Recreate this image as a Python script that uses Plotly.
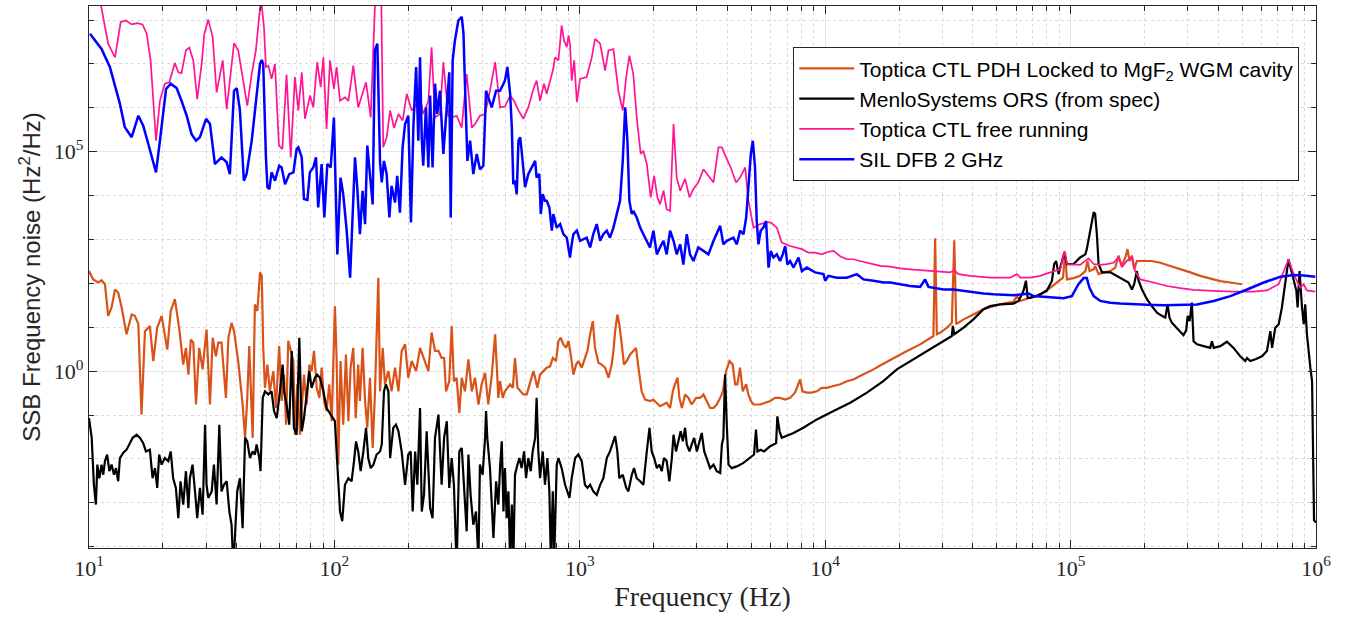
import plotly.graph_objects as go

# Values as (log10 frequency [Hz], log10 SSB frequency noise [Hz^2/Hz])
locked_pdh = [
    (1.000, 2.28), (1.017, 2.09), (1.038, 2.02), (1.051, 2.07), (1.065, 1.98), (1.078, 1.26), (1.092, 1.45),
    (1.106, 1.86), (1.119, 1.79), (1.133, 1.45), (1.153, 0.84), (1.174, 1.29), (1.187, 1.26), (1.201, 1.07),
    (1.214, -0.99), (1.228, 0.91), (1.248, 1.03), (1.262, 0.23), (1.278, 0.99), (1.296, 1.26), (1.319, 0.49),
    (1.333, 1.37), (1.350, 1.64), (1.368, 0.95), (1.384, 0.15), (1.395, 0.53), (1.405, -0.08), (1.415, 0.72),
    (1.425, 0.65), (1.436, -0.76), (1.449, 0.53), (1.463, 0.04), (1.479, 0.95), (1.493, -0.76), (1.504, 0.76),
    (1.517, 0.34), (1.527, 0.65), (1.540, 0.65), (1.558, -0.61), (1.568, 0.76), (1.581, 1.10), (1.591, 0.91),
    (1.608, 0.23), (1.615, -0.11), (1.626, -0.76), (1.636, -1.52), (1.645, -0.61), (1.653, 0.57), (1.667, -1.52),
    (1.676, 1.52), (1.686, 1.37), (1.697, 2.25), (1.704, 2.17), (1.710, 0.53), (1.717, -0.38), (1.727, 0.15),
    (1.737, -0.46), (1.751, 0.00), (1.762, -0.84), (1.775, 0.57), (1.785, -0.68), (1.795, -0.08), (1.803, -1.22),
    (1.812, 0.69), (1.822, 0.46), (1.833, 0.23), (1.839, -1.45), (1.849, -0.30), (1.860, -1.45), (1.871, -0.38),
    (1.876, -0.08), (1.887, -0.76), (1.898, 0.15), (1.907, 0.00), (1.917, 0.46), (1.928, -0.38), (1.939, -0.61),
    (1.948, 0.08), (1.958, -0.68), (1.968, -0.91), (1.979, -0.30), (1.989, -1.14), (1.996, 0.08), (2.002, 1.48),
    (2.009, 0.30), (2.016, -2.13), (2.025, 0.23), (2.036, -1.22), (2.047, 0.38), (2.057, -1.14), (2.066, 0.08),
    (2.077, 0.53), (2.087, -1.07), (2.097, 0.15), (2.104, -0.68), (2.115, 0.53), (2.125, -0.68), (2.134, -1.29),
    (2.145, -0.15), (2.156, -1.75), (2.165, -0.53), (2.179, 2.13), (2.186, -0.46), (2.197, 0.53), (2.206, -0.30),
    (2.220, 0.00), (2.233, -0.46), (2.247, 0.08), (2.261, -0.46), (2.274, 0.46), (2.288, 0.61), (2.301, -0.15),
    (2.315, 0.23), (2.333, 0.00), (2.349, 0.53), (2.365, 0.30), (2.383, 0.00), (2.396, 0.88), (2.410, 0.46),
    (2.424, 0.46), (2.437, 0.30), (2.447, 0.30), (2.455, -0.46), (2.468, -0.23), (2.478, 1.03), (2.487, -0.23),
    (2.498, -0.15), (2.509, -0.95), (2.519, -0.15), (2.532, -0.46), (2.546, 0.27), (2.560, -0.46), (2.573, -0.15),
    (2.587, -0.76), (2.600, -0.30), (2.614, -0.04), (2.627, -0.76), (2.641, -0.11), (2.655, 0.84), (2.668, -0.61),
    (2.675, -0.23), (2.686, -0.61), (2.695, -0.46), (2.705, -0.38), (2.716, -0.30), (2.727, -0.38), (2.736, 0.30),
    (2.746, -0.38), (2.757, -0.46), (2.770, -0.53), (2.784, -0.53), (2.797, -0.30), (2.811, 0.00), (2.818, -0.15),
    (2.827, -0.38), (2.838, -0.08), (2.852, 0.00), (2.865, 0.08), (2.879, 0.11), (2.890, 0.30), (2.903, 0.23),
    (2.913, 0.69), (2.922, 0.76), (2.933, 0.61), (2.944, 0.53), (2.954, 0.69), (2.963, 0.38), (2.974, -0.08),
    (2.985, 0.15), (2.994, 0.23), (3.008, 0.08), (3.021, 0.30), (3.031, 0.46), (3.042, 0.84), (3.053, 1.14),
    (3.062, 0.53), (3.076, 0.19), (3.089, 0.15), (3.103, 0.08), (3.117, -0.15), (3.130, 0.15), (3.137, 0.46),
    (3.144, 0.91), (3.153, 1.29), (3.161, 1.07), (3.171, 0.61), (3.180, 0.15), (3.191, 0.23), (3.205, 0.38),
    (3.218, 0.46), (3.229, 0.53), (3.239, 0.08), (3.252, -0.46), (3.266, -0.65), (3.286, -0.68), (3.300, -0.65),
    (3.314, -0.72), (3.327, -0.80), (3.341, -0.76), (3.354, -0.72), (3.368, -0.84), (3.379, -0.46), (3.388, -0.30),
    (3.398, -0.15), (3.406, -0.61), (3.416, -0.84), (3.429, -0.53), (3.443, -0.61), (3.456, -0.76), (3.474, -0.61),
    (3.490, -0.61), (3.504, -0.53), (3.517, -0.68), (3.531, -0.84), (3.545, -0.84), (3.558, -0.76), (3.572, -0.61),
    (3.583, -0.46), (3.596, 0.00), (3.610, 0.23), (3.623, 0.15), (3.633, -0.30), (3.642, -0.30), (3.653, 0.08),
    (3.664, -0.46), (3.678, -0.30), (3.687, -0.53), (3.697, -0.68), (3.708, -0.76), (3.721, -0.76), (3.735, -0.76),
    (3.755, -0.72), (3.776, -0.68), (3.796, -0.61), (3.816, -0.61), (3.837, -0.65), (3.857, -0.61), (3.877, -0.49),
    (3.898, -0.19), (3.907, -0.46), (3.925, -0.49), (3.945, -0.49), (3.966, -0.46), (3.986, -0.38), (4.007, -0.38),
    (4.034, -0.34), (4.061, -0.30), (4.088, -0.23), (4.115, -0.19), (4.142, -0.11), (4.170, -0.04), (4.197, 0.04),
    (4.224, 0.13), (4.278, 0.30), (4.333, 0.46), (4.387, 0.61), (4.441, 0.80), (4.448, 3.03), (4.455, 0.84),
    (4.469, 0.88), (4.496, 0.99), (4.516, 1.10), (4.526, 2.98), (4.534, 1.07), (4.564, 1.18), (4.604, 1.29),
    (4.645, 1.41), (4.686, 1.48), (4.727, 1.54), (4.767, 1.58), (4.781, 1.71), (4.795, 1.60), (4.835, 1.67),
    (4.876, 1.75), (4.917, 1.90), (4.944, 2.02), (4.969, 2.13), (4.978, 2.70), (4.985, 2.09), (5.012, 2.12),
    (5.039, 2.17), (5.060, 2.28), (5.069, 2.51), (5.077, 2.28), (5.094, 2.32), (5.100, 2.40), (5.114, 2.21),
    (5.134, 2.25), (5.162, 2.28), (5.182, 2.36), (5.195, 2.63), (5.209, 2.40), (5.223, 2.59), (5.232, 2.78),
    (5.240, 2.51), (5.250, 2.63), (5.259, 2.32), (5.270, 2.51), (5.297, 2.51), (5.331, 2.51), (5.365, 2.47),
    (5.406, 2.40), (5.447, 2.32), (5.488, 2.25), (5.528, 2.17), (5.569, 2.11), (5.610, 2.05), (5.651, 2.02),
    (5.698, 1.98),
]

menlo_ors = [
    (1.000, -1.07), (1.011, -1.52), (1.020, -2.59), (1.028, -3.04), (1.034, -2.13), (1.042, -2.44), (1.051, -2.13),
    (1.058, -2.36), (1.065, -2.05), (1.074, -1.90), (1.083, -2.28), (1.092, -2.13), (1.102, -2.36), (1.110, -2.21),
    (1.119, -2.51), (1.126, -1.98), (1.140, -1.86), (1.153, -1.79), (1.164, -1.67), (1.178, -1.52), (1.194, -1.45),
    (1.208, -1.52), (1.221, -1.64), (1.232, -1.83), (1.248, -1.79), (1.259, -2.44), (1.269, -2.21), (1.278, -2.66),
    (1.286, -1.90), (1.296, -2.13), (1.309, -1.98), (1.323, -2.05), (1.333, -1.83), (1.343, -2.44), (1.354, -2.66),
    (1.364, -3.35), (1.373, -2.51), (1.384, -3.04), (1.395, -2.28), (1.405, -3.12), (1.411, -2.44), (1.422, -2.13),
    (1.432, -2.74), (1.441, -3.35), (1.452, -2.66), (1.463, -3.27), (1.473, -1.22), (1.479, -2.59), (1.486, -2.89),
    (1.500, -2.74), (1.509, -2.13), (1.520, -3.04), (1.531, -1.22), (1.540, -2.74), (1.550, -2.59), (1.561, -2.51),
    (1.572, -3.20), (1.581, -3.50), (1.588, -4.50), (1.595, -3.58), (1.604, -2.74), (1.615, -2.44), (1.626, -3.58),
    (1.636, -1.52), (1.645, -1.60), (1.656, -1.98), (1.667, -1.83), (1.676, -1.90), (1.683, -1.67), (1.694, -1.98),
    (1.699, -2.28), (1.708, -0.61), (1.717, -0.46), (1.731, -0.53), (1.744, -0.46), (1.754, -0.91), (1.765, -1.07),
    (1.778, -0.46), (1.789, 0.15), (1.795, -0.46), (1.805, -0.76), (1.816, -1.22), (1.826, 0.46), (1.835, -1.29),
    (1.846, -1.45), (1.857, 0.76), (1.867, -1.37), (1.876, -1.07), (1.887, -0.46), (1.898, 0.00), (1.907, -0.38),
    (1.921, -0.15), (1.930, -0.08), (1.941, -0.15), (1.955, -0.46), (1.968, -0.84), (1.985, -0.99), (2.002, -1.14),
    (2.012, -2.13), (2.023, -3.20), (2.032, -3.42), (2.043, -2.59), (2.057, -2.44), (2.070, -2.51), (2.080, -2.05),
    (2.088, -1.60), (2.097, -1.83), (2.107, -2.28), (2.118, -1.83), (2.129, -1.29), (2.138, -1.98), (2.148, -2.21),
    (2.159, -2.13), (2.172, -1.90), (2.186, -1.83), (2.193, -1.67), (2.202, -0.46), (2.210, -0.30), (2.220, -0.46),
    (2.227, -1.98), (2.240, -1.29), (2.251, -1.22), (2.261, -1.37), (2.274, -1.83), (2.288, -2.59), (2.301, -1.90),
    (2.311, -1.83), (2.319, -3.20), (2.329, -1.83), (2.338, -2.59), (2.349, -0.84), (2.356, -3.20), (2.365, -2.82),
    (2.376, -1.37), (2.390, -3.12), (2.400, -3.35), (2.410, -1.52), (2.424, -0.99), (2.437, -2.59), (2.447, -1.52),
    (2.458, -1.14), (2.468, -2.66), (2.478, -1.98), (2.487, -2.59), (2.498, -4.50), (2.509, -1.83), (2.519, -1.75),
    (2.528, -2.59), (2.539, -3.65), (2.546, -1.90), (2.555, -2.82), (2.566, -3.50), (2.577, -3.20), (2.587, -4.30),
    (2.593, -2.13), (2.604, -2.36), (2.614, -1.52), (2.618, -0.91), (2.623, -1.52), (2.634, -2.21), (2.648, -3.80),
    (2.659, -2.51), (2.668, -3.04),
    (2.675, -2.21), (2.682, -1.60), (2.689, -3.20), (2.695, -2.21), (2.702, -3.35), (2.709, -2.74), (2.716, -4.30),
    (2.723, -3.04), (2.729, -4.40), (2.736, -2.36), (2.746, -2.13), (2.754, -1.98), (2.763, -2.21), (2.773, -1.83),
    (2.781, -2.44), (2.790, -1.98), (2.800, -2.28), (2.808, -1.83), (2.818, -1.52), (2.824, -0.61), (2.831, -1.83),
    (2.838, -2.44), (2.849, -1.83), (2.858, -2.59), (2.868, -1.98), (2.876, -2.74), (2.882, -4.30), (2.890, -2.74),
    (2.895, -4.40), (2.906, -2.13), (2.913, -1.98), (2.926, -2.21), (2.940, -2.59), (2.958, -2.89), (2.967, -2.44),
    (2.981, -1.98), (2.994, -1.90), (3.008, -2.05), (3.021, -2.59), (3.031, -2.66), (3.042, -2.59), (3.055, -2.74),
    (3.069, -2.82), (3.083, -2.59), (3.096, -2.44), (3.110, -1.98), (3.123, -1.83), (3.134, -1.67), (3.144, -1.48),
    (3.153, -1.83), (3.161, -2.44), (3.175, -2.36), (3.189, -2.66), (3.198, -2.74), (3.212, -2.36), (3.221, -2.21),
    (3.232, -2.44), (3.246, -2.51), (3.259, -2.59), (3.273, -1.83), (3.284, -1.29), (3.293, -1.83), (3.303, -1.98),
    (3.314, -2.21), (3.324, -2.13), (3.334, -2.28), (3.343, -1.98), (3.354, -2.05), (3.365, -2.51), (3.375, -1.98),
    (3.382, -1.45), (3.392, -1.83), (3.402, -1.60), (3.411, -1.37), (3.420, -1.60), (3.429, -1.29), (3.436, -1.67),
    (3.447, -1.83), (3.456, -1.67), (3.466, -1.52), (3.477, -1.83), (3.488, -1.60), (3.497, -1.41), (3.507, -1.83),
    (3.517, -1.98), (3.531, -2.21), (3.545, -2.13), (3.558, -2.28), (3.572, -2.32), (3.579, -1.67), (3.585, -1.52),
    (3.592, -0.08), (3.599, -1.22), (3.606, -2.13), (3.619, -2.21), (3.640, -2.17), (3.667, -2.09), (3.694, -1.98),
    (3.710, -1.90), (3.718, -1.33), (3.724, -1.83), (3.737, -1.79), (3.751, -1.83), (3.776, -1.71), (3.800, -1.64),
    (3.805, -1.03), (3.814, -1.37), (3.823, -1.52), (3.843, -1.48), (3.871, -1.41), (3.911, -1.29), (3.966, -1.10),
    (4.034, -0.91), (4.102, -0.72), (4.170, -0.49),
    (4.238, -0.22), (4.292, 0.04), (4.360, 0.27), (4.428, 0.49), (4.496, 0.72), (4.516, 0.80), (4.520, 1.03),
    (4.526, 0.84), (4.564, 0.99), (4.604, 1.18), (4.645, 1.41), (4.672, 1.48), (4.713, 1.52), (4.767, 1.54),
    (4.788, 1.60), (4.808, 1.83), (4.818, 2.06), (4.825, 1.67), (4.835, 1.67), (4.863, 1.71), (4.903, 1.83),
    (4.924, 2.06), (4.933, 2.44), (4.941, 2.51), (4.951, 2.21), (4.965, 2.51), (4.974, 2.70), (4.985, 2.44),
    (5.012, 2.44), (5.039, 2.59), (5.060, 2.66), (5.066, 2.78), (5.077, 3.12), (5.087, 3.42), (5.094, 3.62),
    (5.100, 3.58), (5.107, 3.12), (5.114, 2.44), (5.128, 2.25), (5.162, 2.25), (5.189, 2.17), (5.216, 2.09),
    (5.236, 2.02), (5.250, 1.86), (5.259, 1.98), (5.270, 2.28), (5.277, 2.06), (5.291, 1.86), (5.311, 1.64),
    (5.331, 1.48), (5.352, 1.33), (5.372, 1.26), (5.386, 1.22), (5.395, 1.52), (5.403, 1.22), (5.413, 1.10),
    (5.433, 0.99), (5.460, 0.82), (5.471, 0.93), (5.477, 1.26), (5.485, 1.14), (5.494, 1.56), (5.501, 0.68),
    (5.515, 0.61), (5.542, 0.57), (5.569, 0.53), (5.576, 0.68), (5.583, 0.53), (5.610, 0.57), (5.637, 0.67),
    (5.664, 0.53), (5.691, 0.34), (5.712, 0.23), (5.719, 0.30), (5.732, 0.23), (5.753, 0.27), (5.780, 0.34),
    (5.800, 0.46), (5.814, 0.91), (5.821, 0.53), (5.834, 0.99), (5.848, 1.07), (5.861, 1.45), (5.875, 2.06),
    (5.888, 2.55), (5.898, 2.32), (5.909, 2.06), (5.920, 1.83), (5.925, 1.45), (5.933, 2.28), (5.943, 1.45),
    (5.950, 1.07), (5.956, 1.52), (5.963, 0.84), (5.977, 0.08), (5.984, -0.23), (5.992, -3.40), (6.000, -3.45),
]

ctl_free = [
    (1.000, 8.90), (1.045, 8.45), (1.078, 7.46), (1.106, 7.15), (1.129, 7.95), (1.150, 7.99), (1.174, 7.90),
    (1.197, 7.93), (1.218, 7.90), (1.235, 7.69), (1.251, 7.08), (1.273, 5.25), (1.289, 6.16), (1.309, 6.55),
    (1.327, 6.58), (1.350, 7.02), (1.364, 6.81), (1.377, 6.79), (1.395, 7.31), (1.409, 7.37), (1.425, 7.08),
    (1.441, 6.20), (1.459, 7.00), (1.470, 7.69), (1.486, 8.01), (1.504, 7.61), (1.520, 6.35), (1.545, 7.08),
    (1.561, 5.97), (1.574, 6.62), (1.591, 7.47), (1.608, 7.31), (1.626, 6.70), (1.645, 6.05), (1.663, 6.77),
    (1.680, 7.31), (1.697, 8.29), (1.704, 8.33), (1.713, 7.84), (1.721, 6.93), (1.731, 6.96), (1.744, 6.66),
    (1.758, 7.00), (1.774, 5.14), (1.788, 5.06), (1.805, 6.76), (1.822, 4.87), (1.839, 6.70), (1.853, 5.94),
    (1.867, 6.81), (1.880, 5.75), (1.901, 6.28), (1.914, 6.01), (1.930, 7.04), (1.944, 6.47), (1.955, 7.15),
    (1.968, 5.52), (1.982, 7.08), (1.998, 6.43), (2.009, 6.93), (2.023, 6.16), (2.043, 6.24), (2.057, 6.16),
    (2.077, 6.96), (2.097, 6.01), (2.111, 6.24), (2.129, 6.58), (2.148, 5.78), (2.165, 8.29), (2.175, 8.90),
    (2.190, 8.90), (2.199, 5.10), (2.213, 5.33), (2.227, 5.94), (2.243, 5.54), (2.261, 5.86), (2.278, 5.71),
    (2.295, 6.32), (2.315, 5.94), (2.335, 6.09), (2.349, 6.24), (2.362, 5.86), (2.383, 6.16), (2.396, 7.38),
    (2.410, 5.78), (2.430, 5.86), (2.444, 7.04), (2.464, 5.82), (2.478, 5.78), (2.498, 5.82), (2.519, 5.55),
    (2.539, 6.77), (2.560, 5.55), (2.573, 5.63), (2.593, 5.82), (2.614, 5.86), (2.634, 6.39), (2.655, 7.04),
    (2.675, 6.01), (2.695, 6.03), (2.716, 6.28), (2.732, 6.16), (2.750, 5.94), (2.770, 5.75), (2.790, 6.01),
    (2.811, 6.43), (2.824, 6.62), (2.838, 6.16), (2.854, 6.55), (2.865, 6.32), (2.879, 6.62), (2.892, 6.89),
    (2.899, 7.15), (2.913, 7.08), (2.926, 7.88), (2.936, 7.53), (2.947, 7.38), (2.954, 7.65), (2.960, 7.46),
    (2.967, 6.62), (2.977, 7.08), (2.988, 6.13), (3.001, 6.66), (3.028, 6.70), (3.049, 7.15), (3.062, 7.57),
    (3.083, 7.46), (3.103, 6.85), (3.117, 7.31), (3.137, 7.34), (3.157, 6.39), (3.175, 5.94), (3.189, 6.70),
    (3.202, 7.19), (3.218, 6.77), (3.232, 5.78), (3.248, 4.95), (3.259, 5.02), (3.273, 4.72), (3.289, 3.96),
    (3.303, 4.45), (3.316, 3.96), (3.327, 3.80), (3.341, 4.11), (3.354, 3.69), (3.368, 3.65), (3.382, 5.63),
    (3.395, 4.41), (3.409, 4.11), (3.429, 4.38), (3.447, 3.96), (3.463, 4.15), (3.483, 4.30), (3.504, 4.60),
    (3.524, 4.45), (3.545, 4.30), (3.565, 5.10), (3.579, 5.10), (3.596, 4.87), (3.615, 4.64), (3.637, 4.30),
    (3.653, 4.41), (3.674, 4.64), (3.687, 3.88), (3.708, 3.27), (3.735, 3.35), (3.762, 3.39), (3.778, 3.39),
    (3.803, 3.27), (3.823, 2.93), (3.857, 2.85), (3.877, 2.82), (3.905, 2.78), (3.932, 2.70), (3.959, 2.70),
    (3.986, 2.66), (4.013, 2.72), (4.034, 2.74), (4.061, 2.62), (4.088, 2.55), (4.115, 2.55), (4.142, 2.51),
    (4.170, 2.47), (4.197, 2.43), (4.224, 2.40),
    (4.265, 2.38), (4.306, 2.34), (4.346, 2.32), (4.387, 2.30), (4.428, 2.28), (4.469, 2.27), (4.509, 2.25),
    (4.526, 2.30), (4.543, 2.21), (4.591, 2.17), (4.632, 2.15), (4.672, 2.13), (4.713, 2.13), (4.754, 2.13),
    (4.781, 2.21), (4.795, 2.13), (4.835, 2.13), (4.876, 2.17), (4.917, 2.25), (4.958, 2.32), (4.975, 2.74),
    (4.985, 2.44), (5.039, 2.42), (5.073, 2.57), (5.094, 2.44), (5.121, 2.42), (5.148, 2.44), (5.175, 2.47),
    (5.195, 2.59), (5.209, 2.37), (5.229, 2.51), (5.250, 2.60), (5.263, 2.28), (5.284, 2.09), (5.338, 2.02),
    (5.393, 1.94), (5.447, 1.89), (5.501, 1.85), (5.583, 1.83), (5.664, 1.81), (5.746, 1.81), (5.800, 1.84),
    (5.848, 1.98), (5.888, 2.55), (5.909, 2.21), (5.936, 1.90), (5.950, 1.98), (5.963, 1.84), (5.997, 1.81),
]

sil_dfb = [
    (1.004, 7.69), (1.051, 7.34), (1.085, 6.93), (1.112, 6.39), (1.126, 6.09), (1.146, 5.56), (1.174, 5.33),
    (1.201, 5.82), (1.221, 5.59), (1.242, 5.17), (1.273, 4.53), (1.289, 5.25), (1.314, 6.43), (1.333, 6.55),
    (1.357, 6.45), (1.377, 6.16), (1.398, 5.82), (1.418, 5.40), (1.436, 5.25), (1.452, 5.33), (1.477, 5.75),
    (1.493, 5.63), (1.513, 4.72), (1.540, 4.87), (1.561, 4.76), (1.574, 4.49), (1.591, 6.39), (1.602, 6.45),
    (1.615, 5.94), (1.631, 4.34), (1.642, 4.49), (1.663, 5.25), (1.680, 6.09), (1.697, 7.00), (1.704, 7.09),
    (1.710, 7.00), (1.721, 4.87), (1.727, 4.19), (1.735, 4.15), (1.744, 4.53), (1.758, 4.34), (1.775, 4.68),
    (1.785, 4.64), (1.799, 4.26), (1.816, 4.49), (1.833, 4.53), (1.846, 5.06), (1.853, 5.10), (1.867, 4.87),
    (1.876, 3.92), (1.890, 3.90), (1.900, 4.53), (1.914, 4.64), (1.925, 4.87), (1.934, 3.73), (1.948, 4.72),
    (1.959, 3.50), (1.971, 4.72), (1.985, 4.64), (1.998, 5.78), (2.012, 2.66), (2.025, 4.41), (2.036, 4.03),
    (2.050, 3.20), (2.064, 2.13), (2.074, 3.58), (2.084, 4.87), (2.093, 4.19), (2.104, 3.12), (2.115, 4.11),
    (2.125, 3.35), (2.134, 5.14), (2.145, 4.49), (2.156, 3.80), (2.165, 7.31), (2.175, 7.46), (2.186, 4.76),
    (2.193, 4.30), (2.202, 4.79), (2.213, 4.49), (2.224, 3.50), (2.233, 4.22), (2.247, 3.84), (2.256, 4.45),
    (2.267, 3.61), (2.278, 5.10), (2.288, 5.63), (2.301, 5.82), (2.312, 3.39), (2.322, 5.59), (2.333, 6.93),
    (2.342, 5.25), (2.349, 7.15), (2.356, 5.29), (2.362, 4.68), (2.373, 6.01), (2.383, 4.64), (2.390, 6.28),
    (2.400, 4.64), (2.410, 6.55), (2.419, 5.86), (2.430, 6.39), (2.444, 4.95), (2.458, 6.16), (2.468, 6.81),
    (2.474, 3.50), (2.482, 7.08), (2.491, 7.53), (2.505, 7.99), (2.519, 8.07), (2.526, 7.69), (2.532, 6.55),
    (2.542, 4.79), (2.553, 5.25), (2.566, 4.49), (2.580, 4.95), (2.593, 4.60), (2.607, 4.68), (2.618, 6.39),
    (2.627, 6.24), (2.641, 6.01), (2.659, 6.39),
    (2.675, 6.39), (2.689, 6.55), (2.695, 6.62), (2.705, 6.93), (2.716, 6.32), (2.723, 5.56), (2.729, 4.26),
    (2.736, 4.34), (2.743, 4.03), (2.750, 5.25), (2.757, 5.33), (2.763, 5.02), (2.770, 4.49), (2.777, 4.19),
    (2.790, 4.49), (2.804, 4.64), (2.811, 4.72), (2.818, 4.79), (2.824, 4.41), (2.835, 4.49), (2.841, 3.58),
    (2.849, 4.03), (2.858, 3.88), (2.865, 3.88), (2.876, 3.73), (2.886, 3.20), (2.892, 3.58), (2.906, 3.27),
    (2.920, 3.35), (2.933, 3.12), (2.947, 3.04), (2.960, 2.59), (2.967, 2.89), (2.974, 3.12), (2.988, 3.20),
    (3.001, 2.97), (3.028, 3.04), (3.042, 2.82), (3.055, 3.12), (3.069, 3.35), (3.083, 2.97), (3.096, 3.12),
    (3.110, 3.20), (3.123, 3.04), (3.137, 3.27), (3.151, 3.58), (3.164, 3.88), (3.175, 4.79), (3.185, 6.01),
    (3.194, 5.25), (3.202, 3.88), (3.212, 3.58), (3.218, 3.65), (3.232, 3.50), (3.246, 3.27), (3.259, 3.12),
    (3.273, 2.97), (3.286, 2.82), (3.300, 3.20), (3.314, 2.66), (3.327, 2.82), (3.341, 2.97), (3.354, 2.66),
    (3.368, 3.20), (3.382, 2.97), (3.395, 2.66), (3.409, 2.89), (3.422, 2.43), (3.436, 3.12), (3.449, 2.66),
    (3.463, 2.51), (3.483, 2.82), (3.504, 2.74), (3.524, 2.66), (3.545, 2.97), (3.572, 3.31), (3.585, 2.89),
    (3.599, 2.97), (3.626, 3.04), (3.640, 2.89), (3.653, 3.20), (3.667, 3.12), (3.678, 3.50), (3.687, 4.19),
    (3.697, 4.95), (3.705, 5.25), (3.714, 4.64), (3.721, 3.42), (3.728, 2.89), (3.737, 3.20), (3.748, 3.27),
    (3.759, 3.42), (3.769, 2.36), (3.778, 2.74), (3.789, 2.59), (3.803, 2.66), (3.816, 2.51), (3.827, 2.66),
    (3.837, 2.85), (3.846, 2.43), (3.857, 2.51), (3.871, 2.36), (3.891, 2.59), (3.905, 2.28), (3.925, 2.36),
    (3.959, 2.25), (3.993, 2.21), (4.000, 2.06), (4.013, 2.17), (4.047, 2.13), (4.088, 2.13), (4.129, 2.21),
    (4.156, 2.09), (4.197, 2.06), (4.238, 2.02),
    (4.265, 2.02), (4.306, 1.98), (4.346, 1.94), (4.387, 1.92), (4.407, 2.09), (4.421, 1.92), (4.441, 1.90),
    (4.482, 1.86), (4.523, 1.86), (4.564, 1.83), (4.604, 1.79), (4.645, 1.77), (4.686, 1.75), (4.727, 1.74),
    (4.767, 1.73), (4.808, 1.75), (4.829, 1.77), (4.849, 1.71), (4.890, 1.69), (4.931, 1.68), (4.971, 1.66),
    (5.005, 1.71), (5.032, 1.98), (5.053, 2.12), (5.066, 2.12), (5.077, 1.90), (5.094, 1.71), (5.121, 1.60),
    (5.162, 1.56), (5.202, 1.54), (5.257, 1.52), (5.311, 1.51), (5.379, 1.50), (5.447, 1.51), (5.515, 1.52),
    (5.583, 1.60), (5.651, 1.71), (5.719, 1.86), (5.787, 2.02), (5.855, 2.15), (5.909, 2.19), (5.950, 2.18),
    (5.997, 2.15),
]

series_names = [
    "Toptica CTL PDH Locked to MgF<sub>2</sub> WGM cavity",
    "MenloSystems ORS (from spec)",
    "Toptica CTL free running",
    "SIL DFB 2 GHz",
]
series_data = [locked_pdh, menlo_ors, ctl_free, sil_dfb]
series_colors = ["#D95319", "#000000", "#FF1493", "#0000FF"]
series_widths = [2.2, 2.2, 1.7, 2.5]

x_tick_exponents = [1, 2, 3, 4, 5, 6]
y_tick_exponents = [0, 5]
y_minor_exponents = [-4, -3, -2, -1, 1, 2, 3, 4, 6, 7, 8]

fig = go.Figure()
for name, data, color, width in zip(series_names, series_data, series_colors, series_widths):
    fig.add_trace(go.Scatter(
        x=[10 ** f for f, s in data],
        y=[10 ** s for f, s in data],
        mode="lines",
        name=name,
        line=dict(color=color, width=width),
    ))

axis_color = "#262626"
serif = "Liberation Serif, Times New Roman, serif"
sans = "Liberation Sans, Arial, Helvetica, sans-serif"

x_minor = [m * 10 ** e for e in x_tick_exponents[:-1] for m in range(2, 10)]

fig.update_xaxes(
    type="log",
    range=[1, 6],
    tickvals=[10 ** e for e in x_tick_exponents],
    ticktext=[f"10<sup>{e}</sup>" for e in x_tick_exponents],
    ticks="inside",
    ticklen=8,
    tickwidth=1,
    tickcolor=axis_color,
    showline=True,
    linecolor=axis_color,
    linewidth=1.2,
    mirror="ticks",
    showgrid=True,
    gridcolor="#e6e6e6",
    gridwidth=1,
    zeroline=False,
    minor=dict(
        tickvals=x_minor,
        ticks="inside",
        ticklen=5,
        tickcolor=axis_color,
        showgrid=True,
        gridcolor="#dadada",
        griddash="dot",
        gridwidth=1,
    ),
    tickfont=dict(family=serif, size=22, color=axis_color),
    title=dict(text="Frequency (Hz)", font=dict(family=serif, size=28, color=axis_color), standoff=6),
)

fig.update_yaxes(
    type="log",
    range=[-4.03, 8.32],
    tickvals=[10 ** e for e in y_tick_exponents],
    ticktext=[f"10<sup>{e}</sup>" for e in y_tick_exponents],
    ticks="inside",
    ticklen=8,
    tickwidth=1,
    tickcolor=axis_color,
    showline=True,
    linecolor=axis_color,
    linewidth=1.2,
    mirror="ticks",
    showgrid=True,
    gridcolor="#e6e6e6",
    gridwidth=1,
    zeroline=False,
    minor=dict(
        tickvals=[10 ** e for e in y_minor_exponents],
        ticks="inside",
        ticklen=5,
        tickcolor=axis_color,
        showgrid=True,
        gridcolor="#dadada",
        griddash="dot",
        gridwidth=1,
    ),
    tickfont=dict(family=serif, size=22, color=axis_color),
    title=dict(text="SSB Frequency noise (Hz<sup>2</sup>/Hz)", font=dict(family=sans, size=24, color=axis_color), standoff=6),
)

fig.update_layout(
    width=1346,
    height=620,
    margin=dict(l=89, r=30, t=6, b=72, autoexpand=False),
    paper_bgcolor="white",
    plot_bgcolor="white",
    showlegend=True,
    legend=dict(
        x=0.574,
        y=0.924,
        xanchor="left",
        yanchor="top",
        bgcolor="white",
        bordercolor=axis_color,
        borderwidth=1,
        font=dict(family=sans, size=21, color="black"),
        itemwidth=55,
        tracegroupgap=0,
    ),
)

fig.write_html("out.html")
